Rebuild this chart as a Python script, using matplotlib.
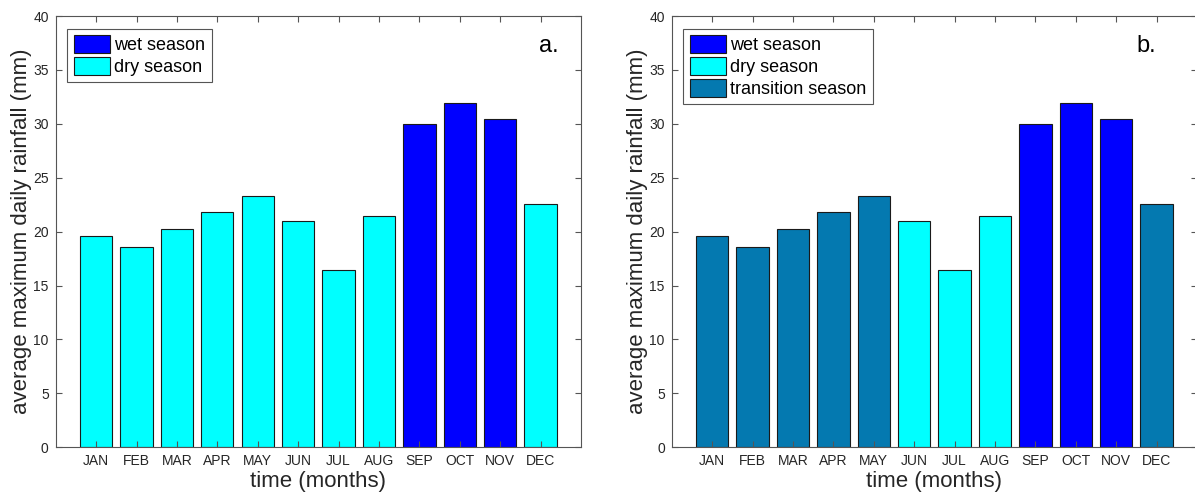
import matplotlib
matplotlib.use('Agg')
import matplotlib.pyplot as plt
from matplotlib.patches import Patch
import numpy as np

plt.rcParams['font.family'] = ['Liberation Sans', 'DejaVu Sans']

months = ['JAN', 'FEB', 'MAR', 'APR', 'MAY', 'JUN',
          'JUL', 'AUG', 'SEP', 'OCT', 'NOV', 'DEC']
rainfall = [19.63, 18.61, 20.28, 21.79, 23.31, 21.02,
            16.45, 21.45, 29.95, 31.90, 30.45, 22.60]

# season of each month for both classifications
seasons_a = ['dry', 'dry', 'dry', 'dry', 'dry', 'dry',
             'dry', 'dry', 'wet', 'wet', 'wet', 'dry']
seasons_b = ['transition', 'transition', 'transition', 'transition', 'transition', 'dry',
             'dry', 'dry', 'wet', 'wet', 'wet', 'transition']

season_colors = {'wet': '#0000ff', 'dry': '#00ffff', 'transition': '#0479b0'}
season_names = {'wet': 'wet season', 'dry': 'dry season', 'transition': 'transition season'}

text_color = '#262626'
spine_color = '#555555'


def draw_panel(ax, seasons, legend_keys, tag, tag_x):
    x = np.arange(1, len(months) + 1)
    colors = [season_colors[s] for s in seasons]
    ax.bar(x, rainfall, width=0.8, color=colors, edgecolor='#1a1a1a', linewidth=0.8)

    ax.set_xlim(0, 13)
    ax.set_ylim(0, 40)
    ax.set_xticks(x)
    ax.set_xticklabels(months)
    ax.set_yticks(np.arange(0, 41, 5))
    ax.tick_params(direction='in', length=4, width=0.8, colors=spine_color,
                   labelcolor=text_color, labelsize=10, top=True, right=True, pad=5)
    for sp in ax.spines.values():
        sp.set_color(spine_color)
        sp.set_linewidth(0.8)

    ax.set_xlabel('time (months)', fontsize=16, color=text_color, labelpad=2)
    ax.set_ylabel('average maximum daily rainfall (mm)', fontsize=16, color=text_color, labelpad=1)

    handles = [Patch(facecolor=season_colors[k], edgecolor='#1a1a1a', linewidth=0.8,
                     label=season_names[k]) for k in legend_keys]
    leg = ax.legend(handles=handles, loc='upper left', bbox_to_anchor=(0.022, 0.97),
                    fontsize=13, fancybox=False, frameon=True, framealpha=1,
                    handlelength=2.0, handleheight=1.15, labelspacing=0.15,
                    handletextpad=0.25, borderpad=0.35, borderaxespad=0)
    leg.get_frame().set_edgecolor(spine_color)
    leg.get_frame().set_linewidth(0.8)
    for t in leg.get_texts():
        t.set_color('black')

    ax.text(tag_x, 37.2, tag, fontsize=17, ha='center', va='center', color='black')


fig = plt.figure(figsize=(11.95, 4.99), dpi=100)
ax_a = fig.add_axes([0.0466, 0.1036, 0.4396, 0.8643])
ax_b = fig.add_axes([0.5621, 0.1036, 0.4396, 0.8643])

draw_panel(ax_a, seasons_a, ['wet', 'dry'], 'a.', 12.2)
draw_panel(ax_b, seasons_b, ['wet', 'dry', 'transition'], 'b.', 11.74)

fig.savefig('out.png', dpi=100)
